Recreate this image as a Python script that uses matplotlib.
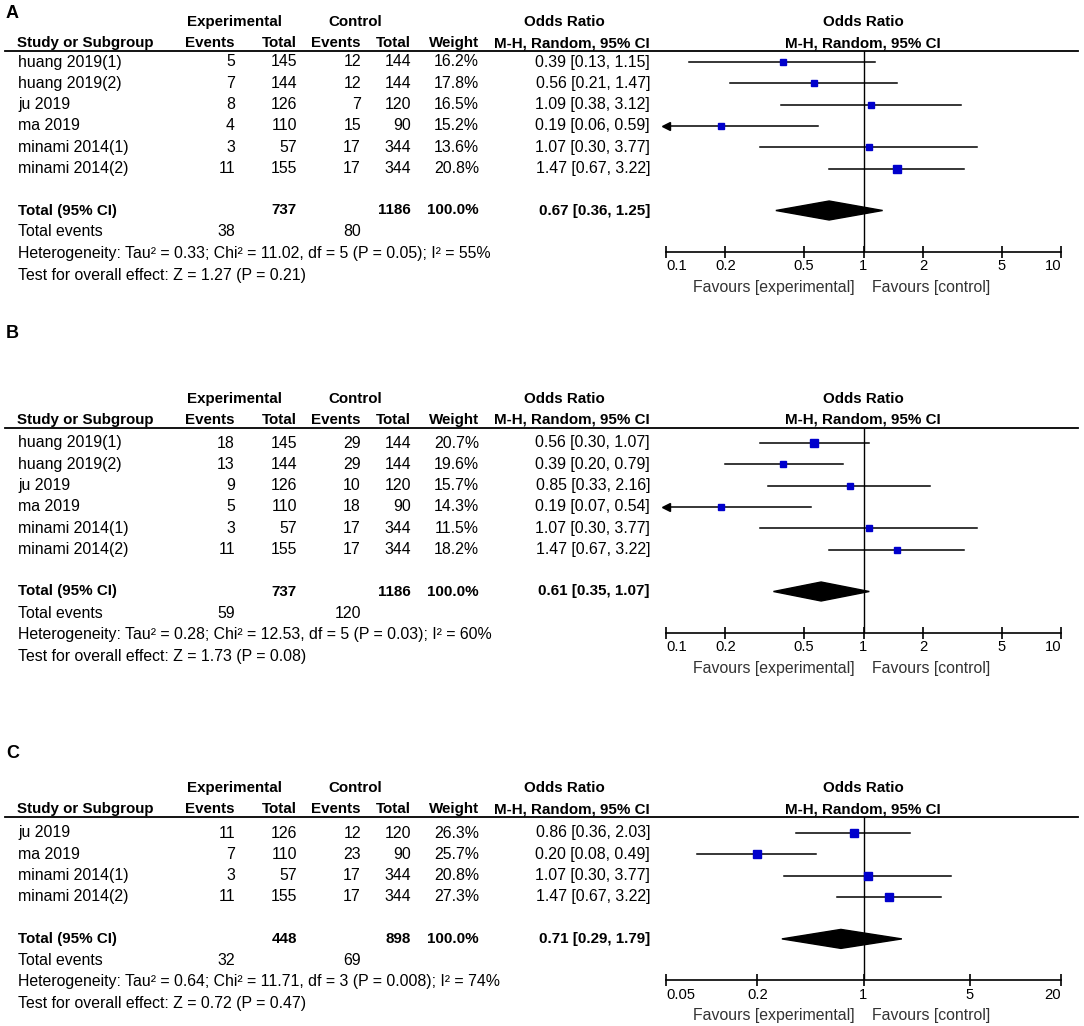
import matplotlib.pyplot as plt
import numpy as np

plt.rcParams['font.family'] = ['Liberation Sans', 'DejaVu Sans']

# panel A
studies_a = ['huang 2019(1)', 'huang 2019(2)', 'ju 2019', 'ma 2019', 'minami 2014(1)', 'minami 2014(2)']
exp_events_a = [5, 7, 8, 4, 3, 11]
exp_total_a = [145, 144, 126, 110, 57, 155]
ctl_events_a = [12, 12, 7, 15, 17, 17]
ctl_total_a = [144, 144, 120, 90, 344, 344]
weight_a = [16.2, 17.8, 16.5, 15.2, 13.6, 20.8]
or_a = [0.39, 0.56, 1.09, 0.19, 1.07, 1.47]
lo_a = [0.13, 0.21, 0.38, 0.06, 0.30, 0.67]
hi_a = [1.15, 1.47, 3.12, 0.59, 3.77, 3.22]
total_a = (737, 1186, 38, 80, 0.67, 0.36, 1.25)
het_a = 'Heterogeneity: Tau\u00b2 = 0.33; Chi\u00b2 = 11.02, df = 5 (P = 0.05); I\u00b2 = 55%'
test_a = 'Test for overall effect: Z = 1.27 (P = 0.21)'

# panel B
studies_b = ['huang 2019(1)', 'huang 2019(2)', 'ju 2019', 'ma 2019', 'minami 2014(1)', 'minami 2014(2)']
exp_events_b = [18, 13, 9, 5, 3, 11]
exp_total_b = [145, 144, 126, 110, 57, 155]
ctl_events_b = [29, 29, 10, 18, 17, 17]
ctl_total_b = [144, 144, 120, 90, 344, 344]
weight_b = [20.7, 19.6, 15.7, 14.3, 11.5, 18.2]
or_b = [0.56, 0.39, 0.85, 0.19, 1.07, 1.47]
lo_b = [0.30, 0.20, 0.33, 0.07, 0.30, 0.67]
hi_b = [1.07, 0.79, 2.16, 0.54, 3.77, 3.22]
total_b = (737, 1186, 59, 120, 0.61, 0.35, 1.07)
het_b = 'Heterogeneity: Tau\u00b2 = 0.28; Chi\u00b2 = 12.53, df = 5 (P = 0.03); I\u00b2 = 60%'
test_b = 'Test for overall effect: Z = 1.73 (P = 0.08)'

# panel C
studies_c = ['ju 2019', 'ma 2019', 'minami 2014(1)', 'minami 2014(2)']
exp_events_c = [11, 7, 3, 11]
exp_total_c = [126, 110, 57, 155]
ctl_events_c = [12, 23, 17, 17]
ctl_total_c = [120, 90, 344, 344]
weight_c = [26.3, 25.7, 20.8, 27.3]
or_c = [0.86, 0.20, 1.07, 1.47]
lo_c = [0.36, 0.08, 0.30, 0.67]
hi_c = [2.03, 0.49, 3.77, 3.22]
total_c = (448, 898, 32, 69, 0.71, 0.29, 1.79)
het_c = 'Heterogeneity: Tau\u00b2 = 0.64; Chi\u00b2 = 11.71, df = 3 (P = 0.008); I\u00b2 = 74%'
test_c = 'Test for overall effect: Z = 0.72 (P = 0.47)'

ticks_ab = [0.1, 0.2, 0.5, 1, 2, 5, 10]
tick_labels_ab = ['0.1', '0.2', '0.5', '1', '2', '5', '10']
ticks_c = [0.05, 0.2, 1, 5, 20]
tick_labels_c = ['0.05', '0.2', '1', '5', '20']

W, H = 1084, 1026
FS = 11.4      # body text
FS_B = 10.9    # bold headers
FS_T = 10.6    # tick labels
BLUE = '#0000cc'

fig = plt.figure(figsize=(W / 100, H / 100), dpi=100)
bg = fig.add_axes([0, 0, 1, 1])
bg.set_xlim(0, W)
bg.set_ylim(H, 0)
bg.axis('off')

X0, X1 = 666, 1061  # forest plot pixel span


def txt(x, y, s, ha='right', bold=False, **kw):
    bg.text(x, y, s, ha=ha, va='center', fontsize=FS_B if bold else FS,
            fontweight='bold' if bold else 'normal', **kw)


def panel(label, label_y, line_y, row0, studies, ee, et, ce, ct, wt, orr, lo, hi,
          total, het, test, ticks, tick_labels):
    step = 21.3
    bg.text(6, label_y, label, ha='left', va='center', fontsize=13, fontweight='bold')

    # headers
    h1, h2 = line_y - 29, line_y - 8
    txt(234, h1, 'Experimental', ha='center', bold=True)
    txt(355, h1, 'Control', ha='center', bold=True)
    txt(564, h1, 'Odds Ratio', ha='center', bold=True)
    txt(863, h1, 'Odds Ratio', ha='center', bold=True)
    txt(17, h2, 'Study or Subgroup', ha='left', bold=True)
    for x, s in zip([235, 297, 361, 411, 479, 650],
                    ['Events', 'Total', 'Events', 'Total', 'Weight', 'M-H, Random, 95% CI']):
        txt(x, h2, s, bold=True)
    txt(863, h2, 'M-H, Random, 95% CI', ha='center', bold=True)
    bg.plot([5, 1078], [line_y, line_y], color='black', lw=1.3)

    ys = [row0 + step * i for i in range(len(studies))]
    for y, name, a, b, c, d, w, o, l, h in zip(ys, studies, ee, et, ce, ct, wt, orr, lo, hi):
        txt(18, y, name, ha='left')
        txt(235, y, str(a))
        txt(297, y, str(b))
        txt(361, y, str(c))
        txt(411, y, str(d))
        txt(479, y, f'{w:.1f}%')
        txt(650, y, f'{o:.2f} [{l:.2f}, {h:.2f}]')

    n_exp, n_ctl, ev_exp, ev_ctl, t_or, t_lo, t_hi = total
    y_tot = ys[-1] + 42
    txt(18, y_tot, 'Total (95% CI)', ha='left', bold=True)
    txt(297, y_tot, str(n_exp), bold=True)
    txt(411, y_tot, str(n_ctl), bold=True)
    txt(479, y_tot, '100.0%', bold=True)
    txt(650, y_tot, f'{t_or:.2f} [{t_lo:.2f}, {t_hi:.2f}]', bold=True)
    txt(18, y_tot + 21.5, 'Total events', ha='left')
    txt(235, y_tot + 21.5, str(ev_exp))
    txt(361, y_tot + 21.5, str(ev_ctl))
    txt(18, y_tot + 43, het, ha='left')
    txt(18, y_tot + 65, test, ha='left')

    # forest part
    axis_y = y_tot + 41
    ax = fig.add_axes([X0 / W, 1 - axis_y / H, (X1 - X0) / W, (axis_y - line_y) / H])
    ax.set_xscale('log')
    ax.set_xlim(ticks[0], ticks[-1])
    ax.set_ylim(axis_y, line_y)
    ax.patch.set_alpha(0)
    for s in ['top', 'left', 'right']:
        ax.spines[s].set_visible(False)
    ax.spines['bottom'].set_linewidth(1.2)
    ax.set_yticks([])
    ax.set_xticks(ticks)
    ax.set_xticklabels(tick_labels, fontsize=FS_T)
    ax.xaxis.set_minor_locator(plt.NullLocator())
    ax.tick_params(axis='x', direction='inout', length=9, width=1.2, pad=1)
    tl = ax.get_xticklabels()
    tl[0].set_ha('left')
    tl[-1].set_ha('right')
    ax.axvline(1, color='black', lw=1.0)

    xmin = ticks[0]
    for y, o, l, h, w in zip(ys, orr, lo, hi, wt):
        if l < xmin:
            ax.plot([xmin, h], [y, y], color='black', lw=1.1, clip_on=False)
            ax.plot([xmin], [y], marker='<', color='black', ms=6, clip_on=False)
        else:
            ax.plot([l, h], [y, y], color='black', lw=1.1)
        side = 1.55 * np.sqrt(w) * 0.72
        ax.plot([o], [y], marker='s', color=BLUE, ms=side, mec=BLUE, zorder=3)

    ax.fill([t_lo, t_or, t_hi, t_or], [y_tot, y_tot - 9.5, y_tot, y_tot + 9.5],
            color='black', zorder=3)

    bg.text(855, axis_y + 36, 'Favours [experimental]', ha='right', va='center',
            fontsize=FS, color='#333333')
    bg.text(872, axis_y + 36, 'Favours [control]', ha='left', va='center',
            fontsize=FS, color='#333333')


panel('A', 14, 51, 62, studies_a, exp_events_a, exp_total_a, ctl_events_a, ctl_total_a,
      weight_a, or_a, lo_a, hi_a, total_a, het_a, test_a, ticks_ab, tick_labels_ab)
panel('B', 334, 428, 443, studies_b, exp_events_b, exp_total_b, ctl_events_b, ctl_total_b,
      weight_b, or_b, lo_b, hi_b, total_b, het_b, test_b, ticks_ab, tick_labels_ab)
panel('C', 753, 817, 833, studies_c, exp_events_c, exp_total_c, ctl_events_c, ctl_total_c,
      weight_c, or_c, lo_c, hi_c, total_c, het_c, test_c, ticks_c, tick_labels_c)

fig.savefig('out.png', dpi=100)
